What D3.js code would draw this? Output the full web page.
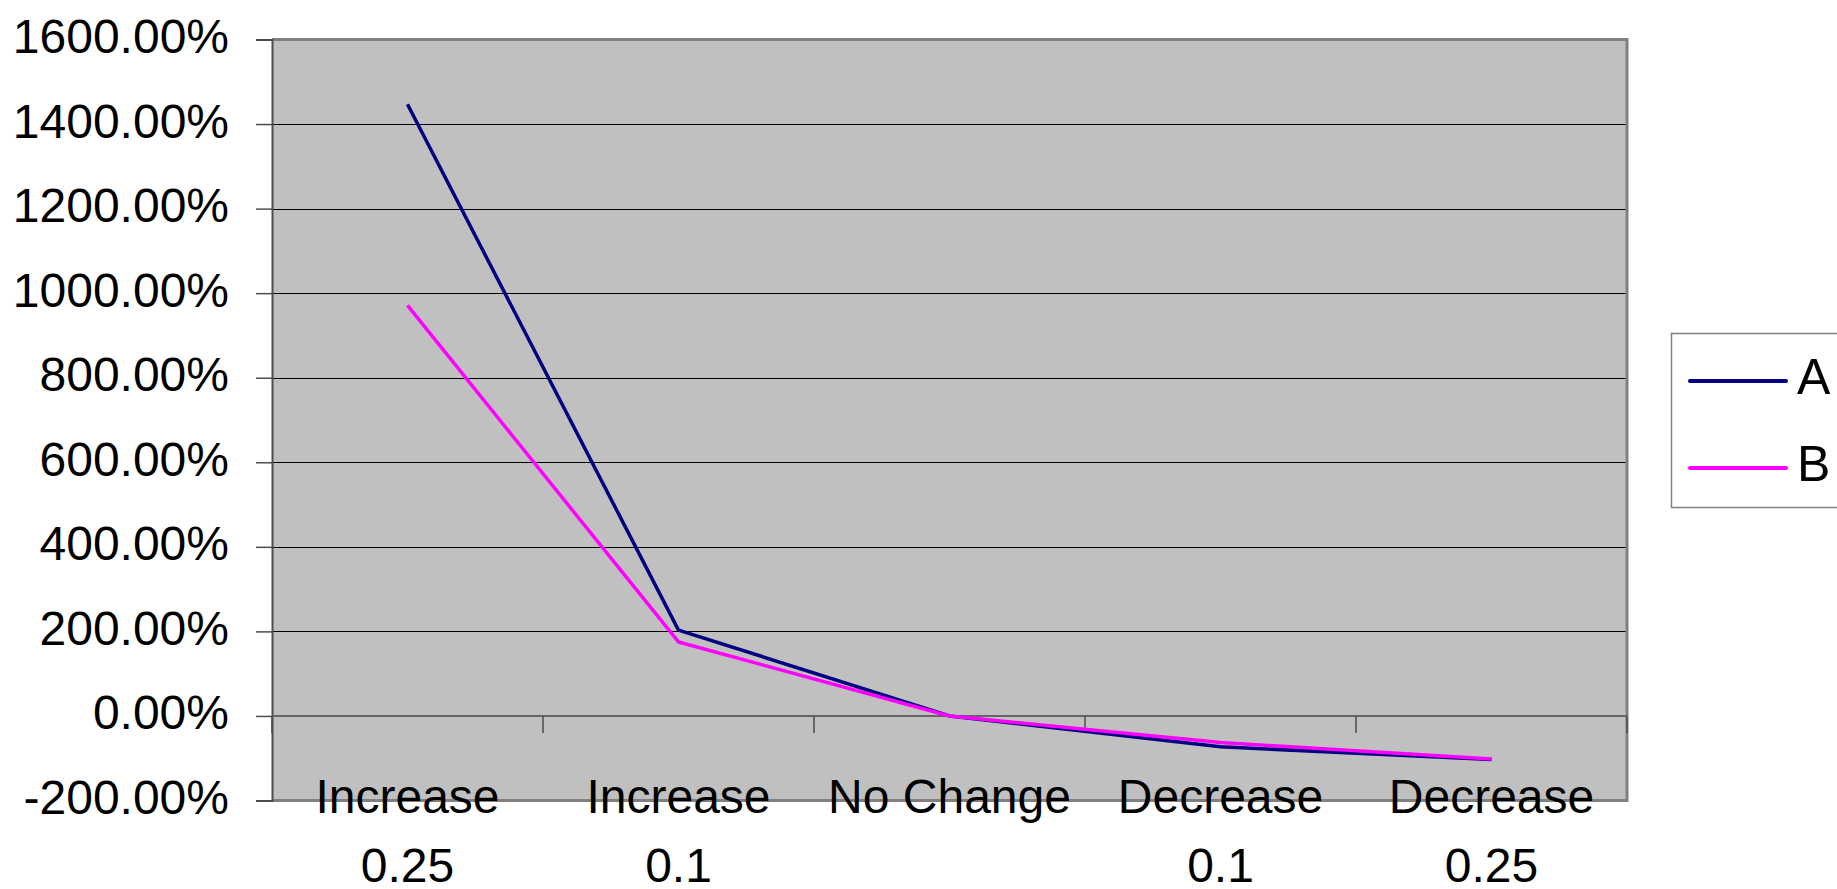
<!DOCTYPE html>
<html>
<head>
    <meta charset="utf-8">
    <style>
        body { margin: 0; padding: 0; overflow: hidden; background-color: #fff; }
        text { font-family: "Liberation Sans", Arial, sans-serif; fill: #000; }
        svg { display: block; }
    </style>
</head>
<body>
    <div id="chart"></div>
    <script src="https://d3js.org/d3.v7.min.js"></script>
    <script>
        // categories (wrapped into two lines like the original)
        var categories = ["Increase 0.25", "Increase 0.1", "No Change", "Decrease 0.1", "Decrease 0.25"];
        var categoryLines = [["Increase", "0.25"], ["Increase", "0.1"], ["No Change"], ["Decrease", "0.1"], ["Decrease", "0.25"]];
        var seriesNames = ["A", "B"];
        var seriesColors = ["#000080", "#FF00FF"];
        // values in percent
        var valuesA = [1447, 203, 0, -73, -103];
        var valuesB = [971, 175, 0, -63, -102];
        var yTicks = [-200, 0, 200, 400, 600, 800, 1000, 1200, 1400, 1600];

        var width = 1837;
        var height = 889;
        var plotLeft = 272, plotRight = 1627, plotTop = 39.5, plotBottom = 800.5;

        var svg = d3.select("#chart")
            .append("svg")
            .attr("width", width)
            .attr("height", height);

        var x = d3.scaleBand()
            .domain(categories)
            .range([plotLeft, plotRight])
            .paddingInner(0)
            .paddingOuter(0);

        var y = d3.scaleLinear()
            .domain([-200, 1600])
            .range([plotBottom, plotTop]);

        // plot area
        svg.append("rect")
            .attr("x", plotLeft)
            .attr("y", plotTop)
            .attr("width", plotRight - plotLeft)
            .attr("height", plotBottom - plotTop)
            .attr("fill", "#C0C0C0");

        // gridlines
        svg.append("g")
            .selectAll("line")
            .data(yTicks)
            .enter().append("line")
            .attr("x1", plotLeft)
            .attr("x2", plotRight)
            .attr("y1", d => Math.round(y(d)) + 0.5)
            .attr("y2", d => Math.round(y(d)) + 0.5)
            .attr("stroke", "#000")
            .attr("stroke-width", 1);

        // plot border (top / right / bottom)
        svg.append("path")
            .attr("d", "M" + plotLeft + "," + plotTop + "H" + plotRight + "V" + plotBottom + "H" + plotLeft)
            .attr("fill", "none")
            .attr("stroke", "#808080")
            .attr("stroke-width", 3);

        // y axis
        var yAxis = svg.append("g")
            .attr("transform", "translate(" + plotLeft + ",0)")
            .call(d3.axisLeft(y)
                .tickValues(yTicks)
                .tickSize(16)
                .tickPadding(27)
                .tickFormat(d => d.toFixed(2) + "%"));
        yAxis.select(".domain").attr("stroke", "#4d4d4d").attr("stroke-width", 2);
        yAxis.selectAll(".tick line").attr("stroke", "#4d4d4d").attr("stroke-width", 1.5);
        yAxis.selectAll(".tick text")
            .attr("font-family", "'Liberation Sans', Arial, sans-serif")
            .attr("font-size", 48)
            .attr("fill", "#000")
            .attr("dy", "0.27em");

        // category axis crossing at 0
        var y0 = y(0);
        svg.append("line")
            .attr("x1", plotLeft)
            .attr("x2", plotRight)
            .attr("y1", y0)
            .attr("y2", y0)
            .attr("stroke", "#666")
            .attr("stroke-width", 2);

        var bounds = categories.map(c => x(c)).concat([plotRight]);
        svg.append("g")
            .selectAll("line")
            .data(bounds)
            .enter().append("line")
            .attr("x1", d => d)
            .attr("x2", d => d)
            .attr("y1", y0)
            .attr("y2", y0 + 17)
            .attr("stroke", "#4d4d4d")
            .attr("stroke-width", 1.5);

        // lines
        var line = d3.line()
            .x((d, i) => x(categories[i]) + x.bandwidth() / 2)
            .y(d => y(d));

        [valuesA, valuesB].forEach(function(vals, i) {
            svg.append("path")
                .datum(vals)
                .attr("fill", "none")
                .attr("stroke", seriesColors[i])
                .attr("stroke-width", 3.5)
                .attr("stroke-linejoin", "round")
                .attr("d", line);
        });

        // category labels
        var catText = svg.append("g")
            .selectAll("text")
            .data(categories)
            .enter().append("text")
            .attr("text-anchor", "middle")
            .attr("font-size", 48);
        catText.each(function(d, i) {
            var t = d3.select(this);
            categoryLines[i].forEach(function(s, j) {
                t.append("tspan")
                    .attr("x", x(d) + x.bandwidth() / 2)
                    .attr("y", 813 + j * 69)
                    .text(s);
            });
        });

        // legend
        var legend = svg.append("g");
        legend.append("rect")
            .attr("x", 1671.5)
            .attr("y", 333.5)
            .attr("width", 200)
            .attr("height", 174)
            .attr("fill", "#fff")
            .attr("stroke", "#808080")
            .attr("stroke-width", 1.5);

        var legendY = [381, 468];
        seriesNames.forEach(function(name, i) {
            legend.append("line")
                .attr("x1", 1690)
                .attr("x2", 1786)
                .attr("y1", legendY[i])
                .attr("y2", legendY[i])
                .attr("stroke", seriesColors[i])
                .attr("stroke-width", 4)
                .attr("stroke-linecap", "round");
            legend.append("text")
                .attr("x", 1797)
                .attr("y", legendY[i] + 13)
                .attr("font-size", 50)
                .text(name);
        });
    </script>
</body>
</html>
